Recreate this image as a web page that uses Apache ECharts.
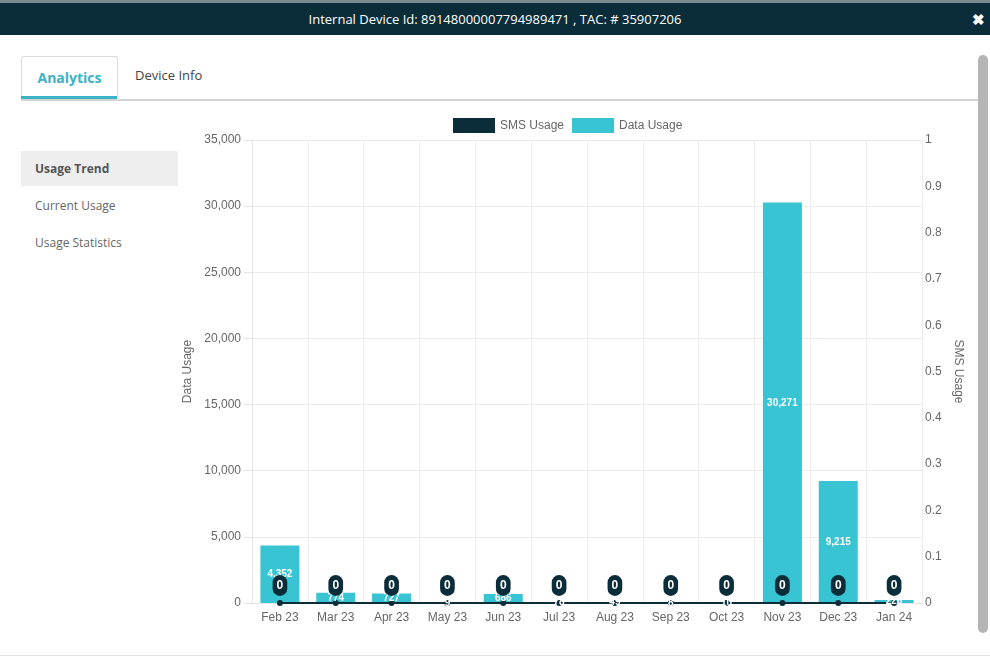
<!DOCTYPE html>
<html>
<head>
<meta charset="utf-8">
<script src="https://cdn.jsdelivr.net/npm/echarts@6/dist/echarts.min.js"></script>
<style>
  html,body{margin:0;padding:0;width:990px;height:659px;overflow:hidden;background:#fff;font-family:"Open Sans",sans-serif;}
  .topstrip{position:absolute;left:0;top:0;width:990px;height:4px;background:#7d8a90;}
  .header{position:absolute;left:0;top:3px;width:990px;height:32px;background:#0b2d3a;color:#fff;font-size:13px;line-height:32px;text-align:center;}
  .close{position:absolute;right:5px;top:3px;height:32px;line-height:32px;color:#fff;font-weight:bold;font-size:15px;}
  .tab{position:absolute;left:21px;top:56px;width:95px;height:41px;border:1px solid #dcdcdc;border-bottom:none;border-radius:3px 3px 0 0;text-align:center;line-height:42px;color:#3ab3c6;font-weight:bold;font-size:14px;}
  .tabline{position:absolute;left:21px;top:96px;width:96px;height:3px;background:#3ab3c6;}
  .tab2{position:absolute;left:135px;top:66px;color:#444;font-size:13px;}
  .hline{position:absolute;left:21px;top:99px;width:957px;height:2px;background:#d3d3d3;}
  .side1{position:absolute;left:21px;top:151px;width:157px;height:35px;background:#eeeeee;color:#555;font-weight:bold;font-size:12px;line-height:35px;text-indent:14px;}
  .side2{position:absolute;left:35px;top:197px;color:#666;font-size:12px;}
  .side3{position:absolute;left:35px;top:234px;color:#666;font-size:12px;}
  .scroll{position:absolute;left:978px;top:55px;width:10px;height:578px;background:#b5b5b5;border-radius:5px;}
  .bline{position:absolute;left:0;top:655px;width:990px;height:1px;background:#e3e3e3;}
  #chart{position:absolute;left:0;top:0;width:990px;height:659px;}
</style>
</head>
<body>
<div class="topstrip"></div>
<div class="header">Internal Device Id: 89148000007794989471 , TAC: # 35907206</div>
<div class="close">&#10006;</div>
<div class="tab">Analytics</div>
<div class="tabline"></div>
<div class="tab2">Device Info</div>
<div class="hline"></div>
<div class="side1">Usage Trend</div>
<div class="side2">Current Usage</div>
<div class="side3">Usage Statistics</div>
<div class="scroll"></div>
<div class="bline"></div>
<div id="chart"></div>
<script>
const categories = ["Feb 23","Mar 23","Apr 23","May 23","Jun 23","Jul 23","Aug 23","Sep 23","Oct 23","Nov 23","Dec 23","Jan 24"];
const dataUsage = [4352, 774, 727, 9, 686, 78, 49, 8, 10, 30271, 9215, 226];
const smsUsage = [0,0,0,0,0,0,0,0,0,0,0,0];
const leftTicks = {min:0, max:35000, interval:5000};
const rightTicks = {min:0, max:1, interval:0.1};

const chart = echarts.init(document.getElementById('chart'), null, {renderer:'canvas'});
const FONT = '"Liberation Sans", Arial, sans-serif';
const TEAL = '#38c4d3', DARK = '#0b2d3a';
chart.setOption({
  animation:false,
  textStyle:{fontFamily:FONT},
  legend:{
    left:448, top:113, itemWidth:42, itemHeight:15, itemGap:8,
    textStyle:{color:'#666', fontSize:12, fontFamily:FONT},
    data:[{name:'SMS Usage', icon:'rect'},{name:'Data Usage', icon:'rect'}]
  },
  grid:{left:252, right:68, top:140, bottom:56, containLabel:false},
  xAxis:{
    type:'category', data:categories,
    axisLine:{show:true, lineStyle:{color:'#e6e6e6'}},
    axisTick:{show:false},
    splitLine:{show:true, lineStyle:{color:'#ececec'}},
    axisLabel:{color:'#666', fontSize:12, margin:9, fontFamily:FONT, interval:0}
  },
  yAxis:[
    {type:'value', min:leftTicks.min, max:leftTicks.max, interval:leftTicks.interval,
     name:'Data Usage', nameLocation:'middle', nameGap:58,
     nameTextStyle:{color:'#666', fontSize:12, fontFamily:FONT},
     axisLine:{show:true, lineStyle:{color:'#e6e6e6'}},
     axisTick:{show:true, length:8, lineStyle:{color:'#e3e3e3'}},
     splitLine:{show:true, lineStyle:{color:'#ececec'}},
     axisLabel:{color:'#666', fontSize:12, margin:11, fontFamily:FONT,
       formatter:v=>v.toLocaleString('en-US')}},
    {type:'value', position:'right', min:rightTicks.min, max:rightTicks.max, interval:rightTicks.interval,
     name:'SMS Usage', nameLocation:'middle', nameGap:28, nameRotate:-90,
     nameTextStyle:{color:'#666', fontSize:12, fontFamily:FONT},
     axisLine:{show:false}, axisTick:{show:false}, splitLine:{show:false},
     axisLabel:{color:'#666', fontSize:12, margin:3, fontFamily:FONT}}
  ],
  series:[
    {name:'Data Usage', type:'bar', yAxisIndex:0, data:dataUsage, barWidth:39, barGap:'-100%',
     itemStyle:{color:TEAL}, z:2},
    {name:'SMS Usage', type:'line', yAxisIndex:1, data:smsUsage, z:3,
     lineStyle:{color:DARK, width:2}, itemStyle:{color:DARK},
     symbol:'circle', symbolSize:6},
    {name:'dataLabels', type:'bar', yAxisIndex:0, data:dataUsage, barWidth:39, barGap:'-100%',
     itemStyle:{color:'rgba(0,0,0,0)'}, z:4, silent:true,
     label:{show:true, position:'inside', color:'#fff', fontSize:10, fontWeight:'bold', fontFamily:FONT,
       formatter:p=>p.value.toLocaleString('en-US')}},
    {name:'smsLabels', type:'line', yAxisIndex:1, data:smsUsage, z:5, silent:true,
     lineStyle:{color:'rgba(0,0,0,0)', width:0}, itemStyle:{color:'rgba(0,0,0,0)', borderWidth:0},
     symbol:'circle', symbolSize:6,
     label:{show:true, position:'top', distance:4, color:'#fff', fontSize:12, fontWeight:'bold',
       backgroundColor:DARK, borderRadius:8, padding:[5,4,4,4], fontFamily:FONT}}
  ]
});
</script>
</body>
</html>
